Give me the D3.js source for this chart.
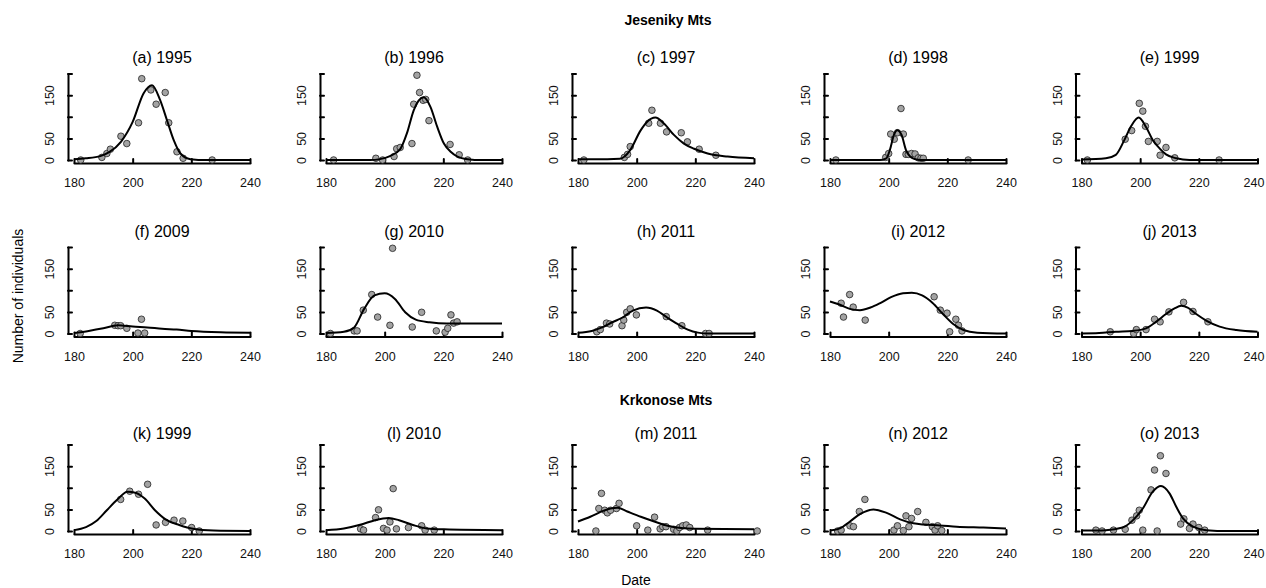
<!DOCTYPE html>
<html>
<head>
<meta charset="utf-8">
<script src="https://cdn.jsdelivr.net/npm/d3@7"></script>
<style>
body { margin: 0; background: #fff; }
text { font-family: Arial, "Liberation Sans", sans-serif; }
</style>
</head>
<body>
<svg id="chart" width="1266" height="588"></svg>
<script>
// panel titles
const titles = ["(a) 1995", "(b) 1996", "(c) 1997", "(d) 1998", "(e) 1999",
                "(f) 2009", "(g) 2010", "(h) 2011", "(i) 2012", "(j) 2013",
                "(k) 1999", "(l) 2010", "(m) 2011", "(n) 2012", "(o) 2013"];
const xTicks = [180, 200, 220, 240];
const yTicks = [0, 50, 100, 150, 200];
const yLabelled = [0, 50, 150];

// observed counts [day, individuals]
const pts_a = [[182.3,0],[189.5,6],[191.2,15],[192.4,25],[196,55],[198,38],[202,86],[203.1,188],[206.2,162],[208,129],[211.1,156],[212.3,86],[215.1,19],[217.2,4],[227.1,0]];
const pts_b = [[182.6,0],[197,4],[199.3,0],[203.2,8],[204.1,26],[205.3,29],[209.3,38],[209.9,129],[211,196],[211.9,156],[213.1,138],[214,140],[215.1,91],[222.3,36],[225.4,12],[228.3,0]];
const pts_c = [[182,0],[195.8,6],[196.9,13],[197.8,31],[204.1,85],[205.2,115],[208.1,85],[210.2,65],[215.2,63],[217.3,42],[221.3,25],[227,11]];
const pts_d = [[182,0],[199,6],[200,15],[200.7,60],[201.9,48],[203,63],[204.2,119],[205,60],[205.9,13],[206.7,13],[207.8,15],[209,14],[210.1,5],[211,4],[211.8,4],[227.1,0]];
const pts_e = [[182,0],[194.9,48],[197.1,68],[199.7,131],[200.9,113],[201.8,78],[202.8,43],[205.8,43],[206.8,11],[208.8,29],[211.8,5],[226.9,0]];
const pts_f = [[182.1,0],[193.9,19],[195,18],[195.9,18],[198,12],[201.8,1],[203,33],[204.1,1]];
const pts_g = [[181.5,0],[189.6,6],[190.6,6],[192.7,54],[195.6,90],[197.6,38],[201.8,19],[202.7,197],[209.4,15],[212.6,49],[217.6,6],[220.6,3],[221.5,12],[222.6,43],[223.5,24],[224.7,27]];
const pts_h = [[186.4,4],[187.6,9],[189.7,24],[190.8,22],[195,18],[195.6,31],[196.6,49],[197.8,57],[199.9,43],[210.1,39],[215.4,18],[223.5,0],[224.7,0]];
const pts_i = [[183.8,70],[184.6,38],[186.7,90],[187.9,61],[192,31],[215.5,85],[217.6,54],[219.9,47],[220.8,4],[222.9,33],[223.8,19],[225,6]];
const pts_j = [[189.8,4],[197.8,0],[198.7,9],[202,9],[204.9,33],[206.8,27],[209.8,50],[214.8,72],[218,51],[223.1,27]];
const pts_k = [[195.9,73],[199,92],[202,85],[205.1,108],[208,14],[211.2,20],[214.1,25],[217.1,23],[220.1,8],[222.7,0]];
const pts_l = [[191.8,5],[192.8,2],[196.9,31],[197.9,49],[199.6,6],[200.8,2],[201.8,21],[202.9,98],[204,5],[208.1,8],[212.6,12],[213.8,2],[216.9,2]];
const pts_m = [[186.1,0],[187.1,52],[188,87],[189.1,48],[190,42],[191.1,48],[193.1,52],[194,64],[200,12],[203.8,2],[206.1,32],[208,5],[208.9,10],[210,10],[212.6,4],[213.7,0],[214.6,8],[215.7,12],[216.9,14],[218.1,8],[224.2,2],[241.1,0]];
const pts_n = [[182.6,0],[183.8,2],[186.8,12],[188,10],[190,45],[191.9,73],[201.8,2],[203,12],[205,1],[205.9,35],[206.9,10],[207.8,29],[209.9,45],[212.7,20],[214.9,10],[215.8,2],[216.7,12],[218.1,1]];
const pts_o = [[184.9,2],[187,0],[190.9,2],[194.9,4],[197.2,25],[198.8,35],[199.7,48],[200.9,2],[203.7,95],[204.9,141],[205.8,0],[206.9,174],[208.8,133],[213.8,16],[214.9,28],[216.8,6],[218,16],[220,8],[222,2]];

// fitted curves [day, individuals]
const fit_a = [[180,2],[184,4],[189,9],[192,18],[196,42],[200,88],[203.7,154],[206.6,173],[209.4,138],[211.7,92],[214,46],[216.3,15],[219.7,2],[225,0],[240,0]];
const fit_b = [[180,0],[195,0],[198.4,2],[201.8,9],[205.3,25],[207.6,62],[209.9,115],[213.3,145],[215.6,123],[217.9,77],[220.2,38],[222.5,19],[224.8,8],[228.3,2],[233,0],[240,0]];
const fit_c = [[180,2],[190,2],[194.3,3],[197.8,23],[201.3,68],[203.5,88],[206.4,98],[209.2,85],[212.7,58],[216.1,38],[219.6,26],[224.2,15],[231,8],[240,4]];
const fit_d = [[180,0],[197,0],[199.2,4],[200.4,23],[201.8,58],[202.9,69],[204.4,58],[205.9,23],[207.3,8],[209,2],[211,0],[240,0]];
const fit_e = [[180,1],[188.3,4],[191.7,12],[194.6,46],[196.9,78],[199.5,98],[202.1,75],[204.3,46],[206.6,27],[208.8,13],[212.3,4],[216.8,0],[240,0]];
const fit_f = [[180,1],[185,6],[190,12],[195,19],[200,16],[205,14],[210,11],[215,9],[220,6],[230,3],[240,2]];
const fit_g = [[180,1],[186.1,4],[189.6,14],[193,57],[196.5,88],[200,93],[203.5,80],[207,49],[210.6,32],[215.3,26],[221.2,23],[240,23]];
const fit_h = [[180,2],[184.7,6],[188.2,14],[191.7,26],[195.2,37],[198.7,53],[203.2,60],[206.9,53],[210.4,37],[213.9,22],[217.4,9],[220.9,2],[224.4,0],[240,0]];
const fit_i = [[180,74],[183.2,67],[186.7,57],[190.2,54],[193.8,60],[197.3,71],[200.8,84],[204.9,93],[207.9,94],[211.4,88],[214.9,71],[218.5,45],[222,22],[225.5,8],[230.2,2],[240,0]];
const fit_j = [[180,0],[186,1],[191.7,4],[197.4,6],[202,12],[205.4,27],[208.8,45],[211.7,58],[214,64],[216.2,60],[219.1,45],[222.5,30],[227.1,16],[232.8,8],[240,4]];
const fit_k = [[180,2],[184.1,9],[187.6,23],[191.2,48],[194.7,72],[198.2,91],[201.2,88],[204.1,75],[207.6,48],[211.2,27],[215.9,14],[220.6,5],[227.6,1],[240,0]];
const fit_l = [[180,2],[186.1,6],[192,15],[196.7,25],[201.4,30],[204.9,25],[209.6,14],[214.4,6],[220.2,4],[240,2]];
const fit_m = [[180,22],[184.2,33],[188.8,47],[191.1,52],[193.4,54],[196.8,45],[201.4,33],[206,22],[210.5,12],[215.1,7],[219.7,5],[240,4]];
const fit_n = [[180,1],[183.4,6],[186.8,22],[190.2,39],[194.8,50],[199.3,42],[203.9,27],[208.4,18],[211.8,15],[217.5,13],[223.2,10],[232.3,8],[240,6]];
const fit_o = [[180,1],[188.3,2],[194,8],[197.4,24],[200.9,52],[204.3,91],[207.1,104],[210,87],[212.3,56],[214.6,29],[218,10],[222.5,2],[230,0],[240,0]];

const allPts = [pts_a, pts_b, pts_c, pts_d, pts_e, pts_f, pts_g, pts_h, pts_i, pts_j, pts_k, pts_l, pts_m, pts_n, pts_o];
const allFits = [fit_a, fit_b, fit_c, fit_d, fit_e, fit_f, fit_g, fit_h, fit_i, fit_j, fit_k, fit_l, fit_m, fit_n, fit_o];

// layout
const colLeft = [74, 326, 578, 830, 1081.5];   // pixel of day 180
const panelW = 176;                            // 180 -> 240
const rowZero = [160, 333.5, 531];             // pixel of 0 individuals
const rowTitle = [63, 237, 439];
const panelH = 86.5;                           // 0 -> 200
const tickFont = "12.5px";

const svg = d3.select("#chart");
svg.append("rect").attr("width", 1266).attr("height", 588).attr("fill", "#fff");

svg.append("text").attr("x", 668).attr("y", 25).attr("text-anchor", "middle")
    .attr("font-size", "14px").attr("font-weight", "bold").text("Jeseniky Mts");
svg.append("text").attr("x", 666).attr("y", 405).attr("text-anchor", "middle")
    .attr("font-size", "14px").attr("font-weight", "bold").text("Krkonose Mts");
svg.append("text").attr("transform", "translate(23,296) rotate(-90)").attr("text-anchor", "middle")
    .attr("font-size", "14px").text("Number of individuals");
svg.append("text").attr("x", 636).attr("y", 585).attr("text-anchor", "middle")
    .attr("font-size", "14px").text("Date");

function drawPanel(i){
    const col = i % 5, row = Math.floor(i / 5);
    const x0 = colLeft[col], y0 = rowZero[row];
    const x = d3.scaleLinear().domain([180, 240]).range([x0, x0 + panelW]);
    const y = d3.scaleLinear().domain([0, 200]).range([y0, y0 - panelH]);
    const g = svg.append("g");

    g.append("text").attr("x", x0 + panelW / 2).attr("y", rowTitle[row])
        .attr("text-anchor", "middle").attr("font-size", "16px").text(titles[i]);

    const xa = g.append("g").attr("transform", `translate(0,${y0 + 3})`)
        .call(d3.axisBottom(x).tickValues(xTicks).tickSizeInner(-4).tickSizeOuter(0));
    xa.selectAll("text").attr("y", 20).attr("dy", "0.35em").attr("font-size", tickFont)
        .attr("font-family", "Arial, 'Liberation Sans', sans-serif").attr("fill", "#111")
        // keep the rightmost label inside the window
        .attr("dx", d => (col === 4 && d === 240) ? -4 : 0);

    const ya = g.append("g").attr("transform", `translate(${x0 - 6},0)`)
        .call(d3.axisLeft(y).tickValues(yTicks).tickSizeInner(-4).tickSizeOuter(0)
            .tickFormat(d => yLabelled.includes(d) ? d : ""));
    ya.selectAll("text").attr("x", 0).attr("y", 0).attr("dy", "0.35em")
        .attr("text-anchor", "middle").attr("transform", "translate(-18,0) rotate(-90)")
        .attr("font-size", tickFont).attr("font-family", "Arial, 'Liberation Sans', sans-serif").attr("fill", "#111");

    g.selectAll(".domain, .tick line").attr("stroke", "#000").attr("stroke-width", 2)
        .attr("stroke-linecap", "round");

    g.selectAll("circle.pt").data(allPts[i]).join("circle").attr("class", "pt")
        .attr("cx", d => x(d[0])).attr("cy", d => y(d[1])).attr("r", 3.3)
        .attr("fill", "#a3a3a3").attr("stroke", "#222").attr("stroke-width", 0.8);

    g.append("path").datum(allFits[i])
        .attr("fill", "none").attr("stroke", "#000").attr("stroke-width", 2)
        .attr("d", d3.line().curve(d3.curveMonotoneX)
            .x(d => x(d[0])).y(d => y(d[1])));
}

for (let i = 0; i < 15; i++) drawPanel(i);
</script>
</body>
</html>
